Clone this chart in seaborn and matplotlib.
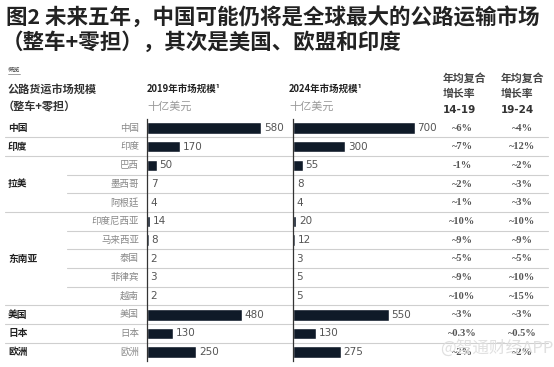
import pandas as pd
import matplotlib.pyplot as plt
import seaborn as sns

# data
countries = ['中国', '印度', '巴西', '墨西哥', '阿根廷', '印度尼西亚', '马来西亚',
             '泰国', '菲律宾', '越南', '美国', '日本', '欧洲']
groups = ['中国', '印度', '拉美', '拉美', '拉美', '东南亚', '东南亚',
          '东南亚', '东南亚', '东南亚', '美国', '日本', '欧洲']
market_2019 = [580, 170, 50, 7, 4, 14, 8, 2, 3, 2, 480, 130, 250]
market_2024 = [700, 300, 55, 8, 4, 20, 12, 3, 5, 5, 550, 130, 275]
cagr_14_19 = ['~6%', '~7%', '-1%', '~2%', '~1%', '~10%', '~9%', '~5%', '~9%', '~10%',
              '~3%', '~0.3%', '~2%']
cagr_19_24 = ['~4%', '~12%', '~2%', '~3%', '~3%', '~10%', '~9%', '~5%', '~10%', '~15%',
              '~3%', '~0.5%', '~2%']

df = pd.DataFrame({'country': countries, 'group': groups,
                   'v2019': market_2019, 'v2024': market_2024})

sns.set_style('white')
plt.rcParams['font.family'] = ['Noto Sans CJK SC', 'DejaVu Sans']

W, H = 554, 367
fig = plt.figure(figsize=(W / 100, H / 100), dpi=100)
fig.patch.set_facecolor('white')


def px(x, y):
    return x / W, 1 - y / H


def txt(x, y, s, **kw):
    fx, fy = px(x, y)
    kw.setdefault('va', 'center')
    fig.text(fx, fy, s, **kw)


bar_color = '#0f1a28'
row_top, row_h = 118.7, 18.67
n = len(countries)


def row_y(i):
    return row_top + row_h * (i + 0.5)


# background axes for separator lines
bg = fig.add_axes([0, 0, 1, 1])
bg.set_xlim(0, W)
bg.set_ylim(H, 0)
bg.axis('off')
for i in range(n - 1):
    y = row_top + row_h * (i + 1)
    x0 = 5 if groups[i] != groups[i + 1] else 67
    bg.plot([x0, 548], [y, y], color='#cfcfcf', lw=0.8)

# bar panels
panels = [('v2019', 147, 700, 0.197), ('v2024', 293, 800, 0.174)]
for col, left, xmax, scale in panels:
    l, b = px(left, row_top + row_h * n)
    ax = fig.add_axes([l, b, scale * xmax / W, row_h * n / H])
    sns.barplot(data=df, x=col, y='country', ax=ax, color=bar_color,
                width=0.62, orient='h', saturation=1)
    ax.set_xlim(0, xmax)
    ax.set_ylim(n - 0.5, -0.5)
    ax.set_xticks([])
    ax.set_yticks([])
    ax.set_xlabel('')
    ax.set_ylabel('')
    ax.patch.set_alpha(0)
    for s in ['top', 'right', 'bottom']:
        ax.spines[s].set_visible(False)
    ax.spines['left'].set_color('#333333')
    ax.spines['left'].set_linewidth(0.9)
    ax.bar_label(ax.containers[0], padding=2, fontsize=7.5, color='#555555',
                 family='DejaVu Sans')

# row labels
group_rows = {}
for i, g in enumerate(groups):
    group_rows.setdefault(g, []).append(i)
for g, rows in group_rows.items():
    ym = (row_y(rows[0]) + row_y(rows[-1])) / 2
    txt(8, ym, g, fontsize=7, fontweight='bold', color='#222222')
for i, c in enumerate(countries):
    txt(139, row_y(i), c, fontsize=6.8, color='#888888', ha='right')
    txt(462, row_y(i), cagr_14_19[i], fontsize=7.5, fontweight='bold',
        color='#555555', ha='center', family=['Liberation Serif'])
    txt(522, row_y(i), cagr_19_24[i], fontsize=7.5, fontweight='bold',
        color='#555555', ha='center', family=['Liberation Serif'])

# title
txt(6, 17, '图2 未来五年，中国可能仍将是全球最大的公路运输市场',
    fontsize=15.5, fontweight='bold', color='#222222')
txt(2, 42, '（整车+零担），其次是美国、欧盟和印度',
    fontsize=15.5, fontweight='bold', color='#222222')

# headers
txt(8, 70, '概览', fontsize=4.5, color='#555555')
bg.plot([8, 20], [74, 74], color='#777777', lw=0.5)
txt(8, 89, '公路货运市场规模', fontsize=8, fontweight='bold', color='#333333')
txt(3, 107, '（整车+零担）', fontsize=8, fontweight='bold', color='#333333')
txt(147, 89, '2019年市场规模¹', fontsize=6.8, fontweight='bold', color='#222222')
txt(147, 107, '十亿美元', fontsize=8, color='#999999')
txt(289, 89, '2024年市场规模¹', fontsize=6.8, fontweight='bold', color='#222222')
txt(289, 107, '十亿美元', fontsize=8, color='#999999')
for x0, yrs in [(443, '14-19'), (501, '19-24')]:
    txt(x0, 78, '年均复合', fontsize=7.8, fontweight='bold', color='#444444')
    txt(x0, 94, '增长率', fontsize=7.8, fontweight='bold', color='#444444')
    txt(x0, 110, yrs, fontsize=7.5, fontweight='bold', color='#333333',
        family=['DejaVu Sans'])

# watermark
txt(440, 348, '@智通财经APP', fontsize=12, color='#dddddd', alpha=0.9)

plt.savefig('out.png', dpi=100)
